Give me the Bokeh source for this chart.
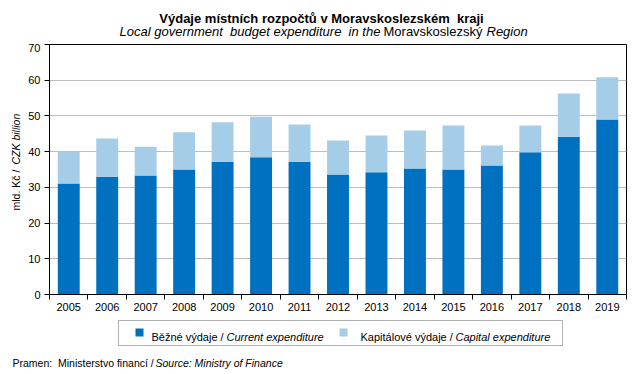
import math
from bokeh.plotting import figure
from bokeh.models import ColumnDataSource, Range1d, FixedTicker, Label, BoxAnnotation
from bokeh.layouts import column, row
from bokeh.embed import file_html
from bokeh.resources import INLINE

# ---- data ----
years = ["2005", "2006", "2007", "2008", "2009", "2010", "2011", "2012",
         "2013", "2014", "2015", "2016", "2017", "2018", "2019"]
current = [31.1, 33.0, 33.3, 35.0, 37.2, 38.4, 37.2, 33.6, 34.2, 35.3, 35.0, 36.1, 39.8, 44.2, 49.0]
capital = [8.9, 10.7, 8.1, 10.4, 11.0, 11.4, 10.4, 9.5, 10.3, 10.6, 12.3, 5.6, 7.5, 12.1, 11.8]
y_ticks = [0, 10, 20, 30, 40, 50, 60, 70]

DARK = "#0070C0"
LIGHT = "#A6CDE8"
FONT = "Liberation Sans"
NB = "\u00a0"


def blank(w, h):
    f = figure(width=w, height=h, x_range=Range1d(0, w), y_range=Range1d(0, h),
               x_axis_type=None, y_axis_type=None, output_backend="svg",
               toolbar_location=None, min_border=0)
    f.min_border_left = f.min_border_right = f.min_border_top = f.min_border_bottom = 0
    f.outline_line_color = None
    f.grid.visible = False
    f.background_fill_color = "white"
    f.border_fill_color = "white"
    return f


def lab(f, text, x, y, size, style="normal", align="left", angle=0.0, baseline="alphabetic"):
    f.add_layout(Label(x=x, y=y, x_units="screen", y_units="screen", text=text,
                       text_font=FONT, text_font_size=size, text_font_style=style,
                       text_align=align, text_baseline=baseline, angle=angle,
                       text_color="black"))


def box(f, l, r, t, b, fill=None, line=None):
    f.add_layout(BoxAnnotation(left=l, right=r, top=t, bottom=b,
                               left_units="screen", right_units="screen",
                               top_units="screen", bottom_units="screen",
                               fill_color=fill, fill_alpha=1 if fill else 0,
                               line_color=line, line_width=1))


# ---- main chart ----
idx = list(range(len(years)))
source = ColumnDataSource(dict(x=idx, current=current, capital=capital))

p = figure(width=619, height=275,
           x_range=Range1d(-0.5, len(years) - 0.5), y_range=Range1d(y_ticks[0], y_ticks[-1]),
           output_backend="svg", toolbar_location=None,
           min_border_left=25, min_border_right=17, min_border_top=1, min_border_bottom=24)
p.background_fill_color = "white"
p.border_fill_color = "white"
p.outline_line_color = "black"
p.outline_line_width = 1

p.vbar_stack(["current", "capital"], x="x", width=0.57, color=[DARK, LIGHT],
             line_color=None, source=source)

xa = p.xaxis[0]
xa.ticker = FixedTicker(ticks=idx, minor_ticks=[i - 0.5 for i in range(len(years) + 1)])
xa.major_label_overrides = {i: y for i, y in zip(idx, years)}
xa.major_tick_out = 0
xa.major_tick_in = 0
xa.minor_tick_out = 5
xa.minor_tick_in = 0
xa.minor_tick_line_color = "black"
xa.axis_line_color = "black"
xa.major_label_text_font = FONT
xa.major_label_text_font_size = "11px"
xa.major_label_text_color = "black"
xa.major_label_standoff = 3

ya = p.yaxis[0]
ya.ticker = FixedTicker(ticks=y_ticks)
ya.major_tick_out = 5
ya.major_tick_in = 0
ya.minor_tick_line_color = None
ya.axis_line_color = "black"
ya.major_tick_line_color = "black"
ya.major_label_text_font = FONT
ya.major_label_text_font_size = "11px"
ya.major_label_text_color = "black"
ya.major_label_standoff = 4

p.xgrid.visible = False
p.ygrid.grid_line_color = "#BDBDBD"
p.ygrid.grid_line_width = 1

# ---- y-axis title strip ----
left = blank(24, 275)
lab(left, "mld. Kč /" + NB, 15, 84, "10.5px", angle=math.pi / 2, baseline="middle")
lab(left, "CZK billion", 15, 130, "10.5px", "italic", angle=math.pi / 2, baseline="middle")

# ---- title strip ----
top = blank(643, 43)
lab(top, "Výdaje místních rozpočtů v Moravskoslezském" + NB + " kraji", 321, 25, "13px", "bold", "center")
lab(top, "Local government" + NB + " budget expenditure" + NB + " in the", 119, 12, "13px", "italic")
lab(top, "Moravskoslezský", 383, 12, "13px")
lab(top, "Region", 486, 12, "13px", "italic")

# ---- legend + source strip ----
bot = blank(643, 56)
box(bot, 118, 562, 54, 29, fill=None, line="black")
box(bot, 135, 143, 46, 38, fill=DARK)
box(bot, 339, 347, 46, 38, fill=LIGHT)
lab(bot, "Běžné výdaje /", 151, 38, "11px")
lab(bot, "Current expenditure", 226, 38, "11px", "italic")
lab(bot, "Kapitálové výdaje /", 360, 38, "11px")
lab(bot, "Capital expenditure", 455, 38, "11px", "italic")
lab(bot, "Pramen:" + NB + " Ministerstvo financí /", 12, 12, "10.5px")
lab(bot, "Source: Ministry of Finance", 155, 12, "10.5px", "italic")

layout = column(top, row(left, p), bot)
open("out.html", "w").write(file_html(layout, INLINE))
